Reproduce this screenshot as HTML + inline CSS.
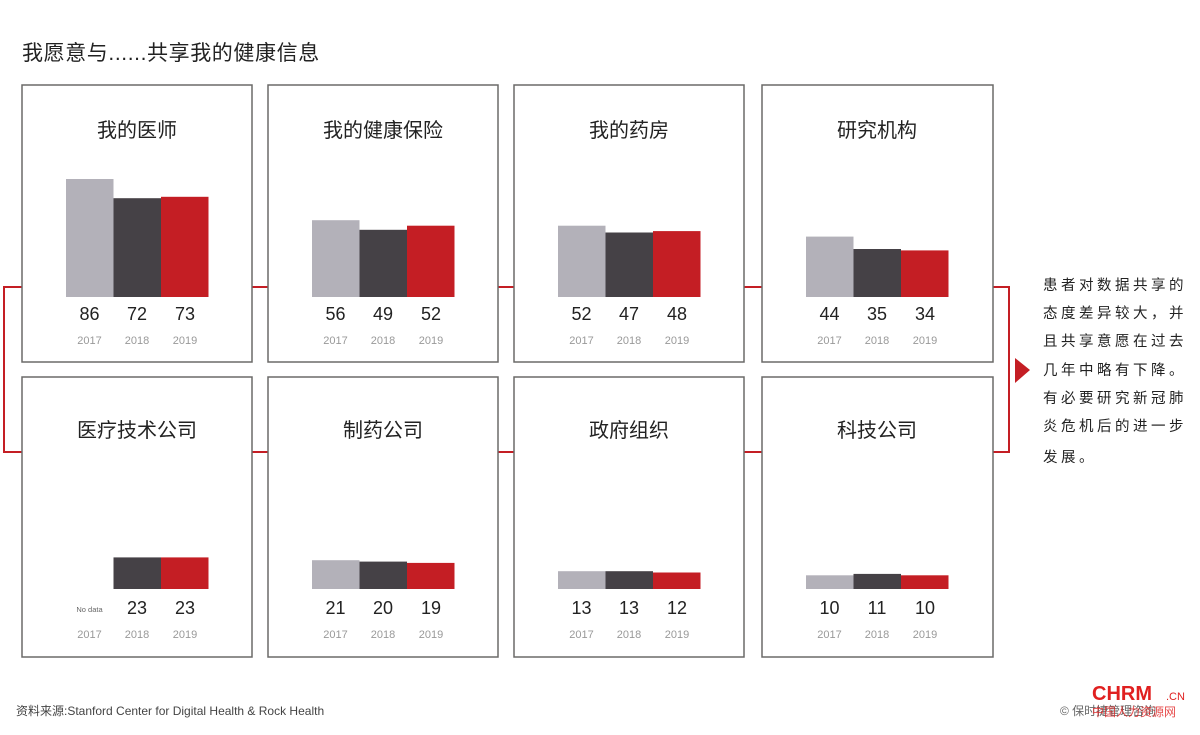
<!DOCTYPE html>
<html><head><meta charset="utf-8"><style>
html,body{margin:0;padding:0;background:#fff;}
svg text{font-family:"Liberation Sans","Noto Sans CJK SC",sans-serif;}
</style></head><body>
<svg width="1200" height="730" viewBox="0 0 1200 730" xmlns="http://www.w3.org/2000/svg">
<rect width="1200" height="730" fill="#fff"/>
<text x="22" y="60" font-size="21" fill="#222" letter-spacing="0.6">我愿意与......共享我的健康信息</text>
<g stroke="#c41e24" stroke-width="2" fill="none">
<line x1="4" y1="287" x2="1009" y2="287"/>
<line x1="4" y1="452" x2="1009" y2="452"/>
<line x1="4" y1="286" x2="4" y2="453"/>
<line x1="1009" y1="286" x2="1009" y2="453"/>
</g>
<polygon points="1015,358 1030,370 1015,383" fill="#c41e24"/>
<g fill="#fff" stroke="#6b6a68" stroke-width="1.5">
<rect x="22" y="85" width="230" height="277"/>
<rect x="268" y="85" width="230" height="277"/>
<rect x="514" y="85" width="230" height="277"/>
<rect x="762" y="85" width="231" height="277"/>
<rect x="22" y="377" width="230" height="280"/>
<rect x="268" y="377" width="230" height="280"/>
<rect x="514" y="377" width="230" height="280"/>
<rect x="762" y="377" width="231" height="280"/>
</g>
<g font-size="20" fill="#222" text-anchor="middle">
<text x="137" y="137">我的医师</text>
<text x="383" y="137">我的健康保险</text>
<text x="629" y="137">我的药房</text>
<text x="877" y="137">研究机构</text>
<text x="137" y="437">医疗技术公司</text>
<text x="383" y="437">制药公司</text>
<text x="629" y="437">政府组织</text>
<text x="877" y="437">科技公司</text>
</g>
<g>
<rect x="66" y="179" width="47.5" height="118" fill="#b3b1b9"/>
<rect x="113.5" y="198.2" width="47.5" height="98.8" fill="#454146"/>
<rect x="161" y="196.8" width="47.5" height="100.2" fill="#c41e24"/>
<rect x="312" y="220.2" width="47.5" height="76.8" fill="#b3b1b9"/>
<rect x="359.5" y="229.8" width="47.5" height="67.2" fill="#454146"/>
<rect x="407" y="225.7" width="47.5" height="71.3" fill="#c41e24"/>
<rect x="558" y="225.7" width="47.5" height="71.3" fill="#b3b1b9"/>
<rect x="605.5" y="232.5" width="47.5" height="64.5" fill="#454146"/>
<rect x="653" y="231.1" width="47.5" height="65.9" fill="#c41e24"/>
<rect x="806" y="236.6" width="47.5" height="60.4" fill="#b3b1b9"/>
<rect x="853.5" y="249" width="47.5" height="48" fill="#454146"/>
<rect x="901" y="250.4" width="47.5" height="46.6" fill="#c41e24"/>
<rect x="113.5" y="557.4" width="47.5" height="31.6" fill="#454146"/>
<rect x="161" y="557.4" width="47.5" height="31.6" fill="#c41e24"/>
<rect x="312" y="560.2" width="47.5" height="28.8" fill="#b3b1b9"/>
<rect x="359.5" y="561.6" width="47.5" height="27.4" fill="#454146"/>
<rect x="407" y="562.9" width="47.5" height="26.1" fill="#c41e24"/>
<rect x="558" y="571.2" width="47.5" height="17.8" fill="#b3b1b9"/>
<rect x="605.5" y="571.2" width="47.5" height="17.8" fill="#454146"/>
<rect x="653" y="572.5" width="47.5" height="16.5" fill="#c41e24"/>
<rect x="806" y="575.3" width="47.5" height="13.7" fill="#b3b1b9"/>
<rect x="853.5" y="573.9" width="47.5" height="15.1" fill="#454146"/>
<rect x="901" y="575.3" width="47.5" height="13.7" fill="#c41e24"/>
</g>
<g font-size="18" fill="#222" text-anchor="middle">
<text x="89.5" y="320">86</text><text x="137" y="320">72</text><text x="185" y="320">73</text>
<text x="335.5" y="320">56</text><text x="383" y="320">49</text><text x="431" y="320">52</text>
<text x="581.5" y="320">52</text><text x="629" y="320">47</text><text x="677" y="320">48</text>
<text x="829.5" y="320">44</text><text x="877" y="320">35</text><text x="925" y="320">34</text>
<text x="137" y="614">23</text><text x="185" y="614">23</text>
<text x="335.5" y="614">21</text><text x="383" y="614">20</text><text x="431" y="614">19</text>
<text x="581.5" y="614">13</text><text x="629" y="614">13</text><text x="677" y="614">12</text>
<text x="829.5" y="614">10</text><text x="877" y="614">11</text><text x="925" y="614">10</text>
</g>
<text x="89.5" y="612" font-size="7.5" fill="#666" text-anchor="middle">No data</text>
<g font-size="11" fill="#999" text-anchor="middle">
<text x="89.5" y="344">2017</text><text x="137" y="344">2018</text><text x="185" y="344">2019</text>
<text x="335.5" y="344">2017</text><text x="383" y="344">2018</text><text x="431" y="344">2019</text>
<text x="581.5" y="344">2017</text><text x="629" y="344">2018</text><text x="677" y="344">2019</text>
<text x="829.5" y="344">2017</text><text x="877" y="344">2018</text><text x="925" y="344">2019</text>
<text x="89.5" y="638">2017</text><text x="137" y="638">2018</text><text x="185" y="638">2019</text>
<text x="335.5" y="638">2017</text><text x="383" y="638">2018</text><text x="431" y="638">2019</text>
<text x="581.5" y="638">2017</text><text x="629" y="638">2018</text><text x="677" y="638">2019</text>
<text x="829.5" y="638">2017</text><text x="877" y="638">2018</text><text x="925" y="638">2019</text>
</g>
<g font-size="14.5" fill="#222" letter-spacing="3.5">
<text x="1043" y="290">患者对数据共享的</text>
<text x="1043" y="318">态度差异较大，并</text>
<text x="1043" y="346">且共享意愿在过去</text>
<text x="1043" y="375">几年中略有下降。</text>
<text x="1043" y="403">有必要研究新冠肺</text>
<text x="1043" y="431">炎危机后的进一步</text>
<text x="1043" y="462">发展。</text>
</g>
<text x="16" y="715" font-size="12" fill="#444">资料来源:Stanford Center for Digital Health &amp; Rock Health</text>
<text x="1060" y="715" font-size="12" fill="#666">© 保时捷管理咨询</text>
<text x="1092" y="700" font-size="20" font-weight="bold" fill="#e02020">CHRM</text>
<text x="1166" y="700" font-size="11" fill="#e02020">.CN</text>
<text x="1092" y="716" font-size="12" fill="#e02020" opacity="0.8">中国人力资源网</text>
</svg>
</body></html>
